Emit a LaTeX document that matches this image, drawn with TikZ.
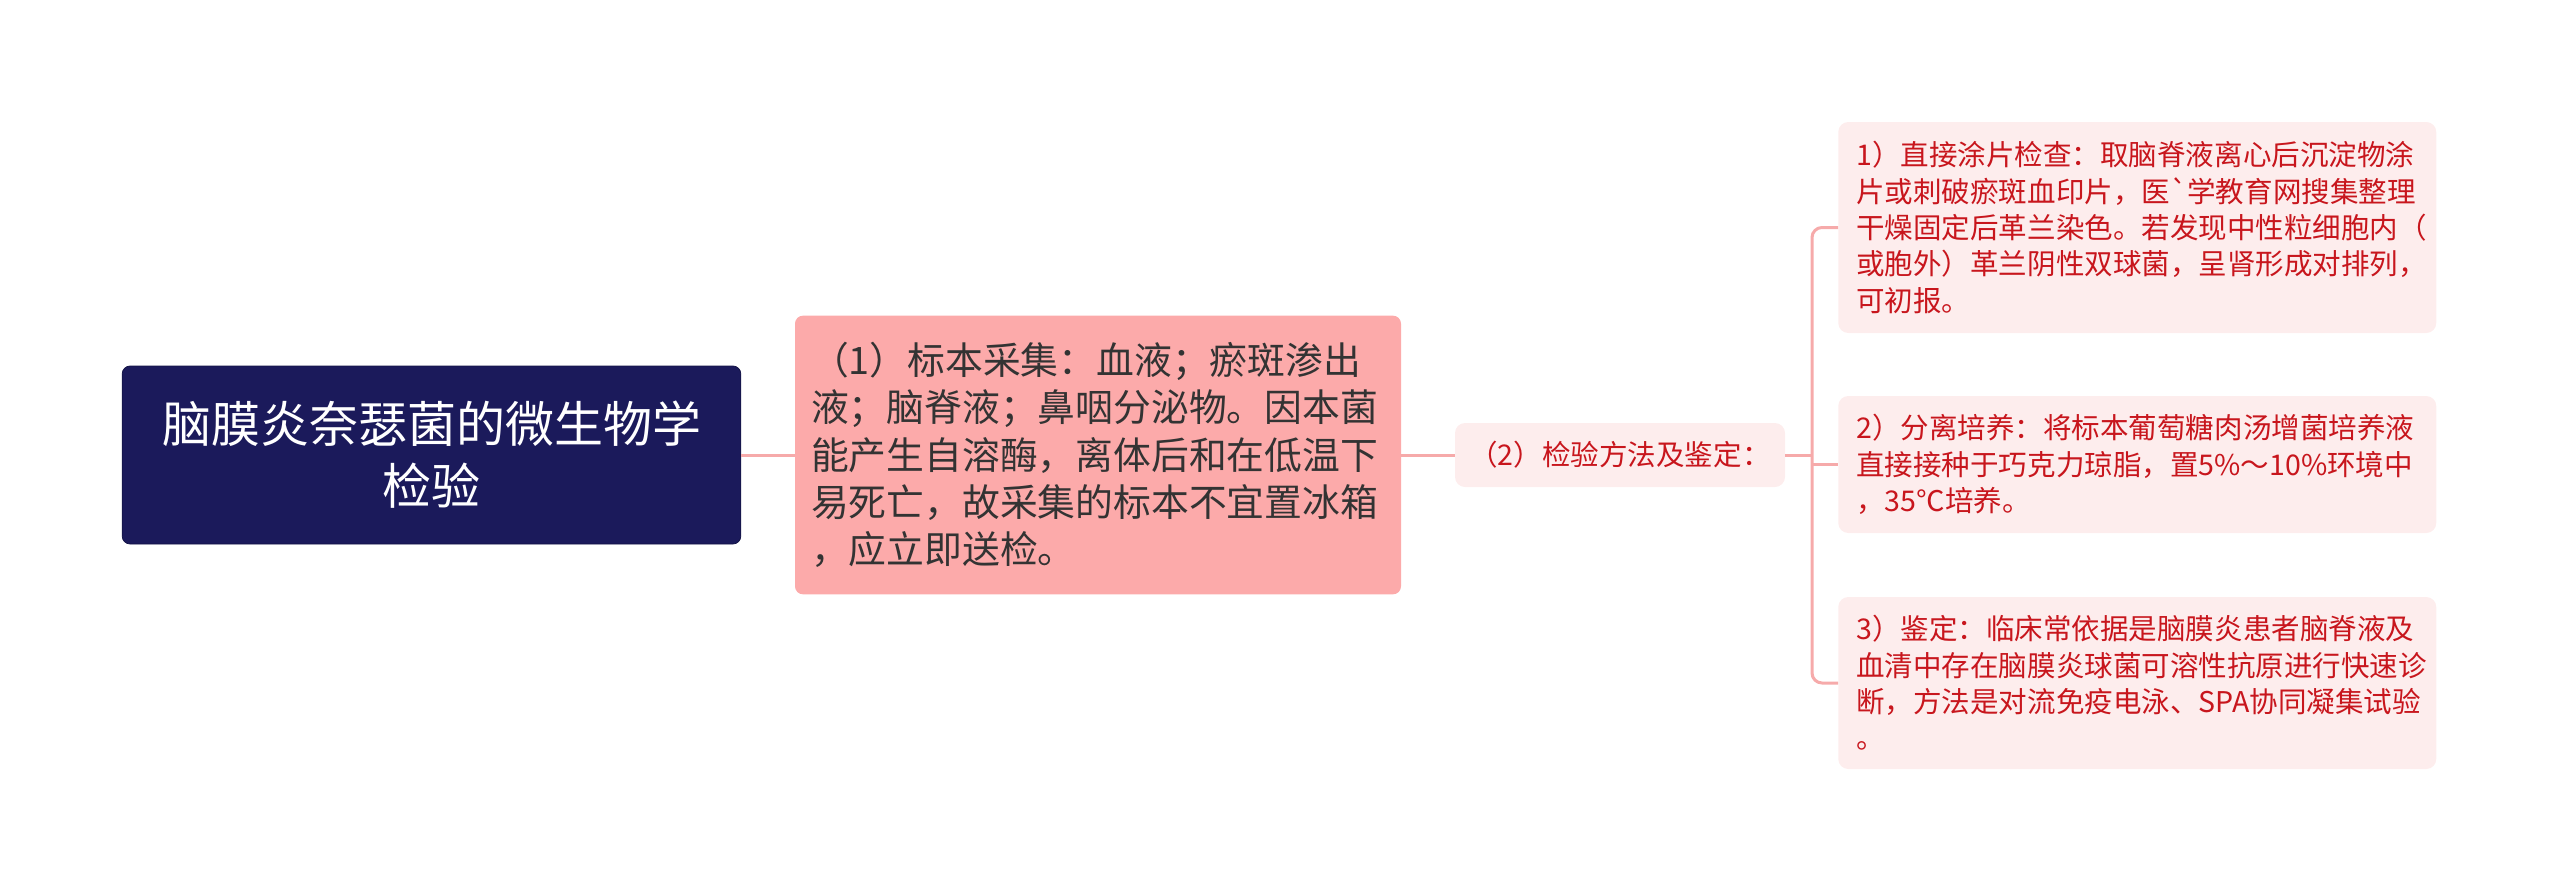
\documentclass[tikz,border=0pt]{standalone}
\usepackage{fontspec}
\setmainfont[Ligatures=TeXOff]{Noto Sans CJK SC}
\usepackage{xcolor}
\definecolor{rootblue}{HTML}{1B1A5B}
\definecolor{rootedge}{HTML}{141447}
\definecolor{specpink}{HTML}{FCAAAA}
\definecolor{leafpink}{HTML}{FDEDED}
\definecolor{leafred}{HTML}{C8161D}
\definecolor{linkpink}{HTML}{F6AAAA}
\definecolor{darktext}{HTML}{333333}

\begin{document}
\begin{tikzpicture}[x=0.75pt,y=-0.75pt,
  link/.style={draw=linkpink, line width=2.25pt},
  rootbox/.style={rectangle, rounded corners=6pt, fill=rootblue, draw=rootedge, line width=0.6pt,
    text=white, align=center, text width=440pt, minimum width=464pt, minimum height=133.5pt,
    font=\fontsize{36.75}{46.5}\selectfont},
  specbox/.style={rectangle, rounded corners=6pt, fill=specpink, text=darktext, align=left,
    inner xsep=12pt, text width=430.5pt, minimum height=209pt,
    font=\fontsize{28.35}{35.5}\selectfont},
  methodbox/.style={rectangle, rounded corners=7.5pt, fill=leafpink, text=leafred, align=center,
    minimum width=247.5pt, minimum height=48pt, font=\fontsize{21.4}{27.3}\selectfont},
  leafbox/.style={rectangle, rounded corners=7.5pt, fill=leafpink, text=leafred, align=left,
    inner xsep=13.5pt, text width=421.5pt, anchor=west, font=\fontsize{21.4}{27.3}\selectfont}]
\useasboundingbox (0,0) rectangle (2560,893);

\node[rootbox] (root) at (431.5,455) {脑膜炎奈瑟菌的微生物学\\检验};
\node[specbox] (spec) at (1098,455) {（1）标本采集：血液；瘀斑渗出\\液；脑脊液；鼻咽分泌物。因本菌\\能产生自溶酶，离体后和在低温下\\易死亡，故采集的标本不宜置冰箱\\，应立即送检。};
\node[methodbox] (method) at (1620,455) {（2）检验方法及鉴定：};

\node[leafbox, minimum height=158.25pt] (smear) at (1838,227.5) {1）直接涂片检查：取脑脊液离心后沉淀物涂\\片或刺破瘀斑血印片，医`学教育网搜集整理\\干燥固定后革兰染色。若发现中性粒细胞内（\\或胞外）革兰阴性双球菌，呈肾形成对排列，\\可初报。};
\node[leafbox, minimum height=102.75pt] (culture) at (1838,464.5) {2）分离培养：将标本葡萄糖肉汤增菌培养液\\直接接种于巧克力琼脂，置5\%～10\%环境中\\，35℃培养。};
\node[leafbox, minimum height=129pt] (ident) at (1838,683) {3）鉴定：临床常依据是脑膜炎患者脑脊液及\\血清中存在脑膜炎球菌可溶性抗原进行快速诊\\断，方法是对流免疫电泳、SPA协同凝集试验\\。};

\coordinate (fork) at (1812,455);
\draw[link] (root.east) -- (spec.west);
\draw[link] (spec.east) -- (method.west);
\draw[link] (method.east) -- (fork);
\draw[link, rounded corners=7.5pt] (smear.west) -| (fork) |- (ident.west);
\draw[link] (fork |- culture.west) -- (culture.west);
\end{tikzpicture}
\end{document}
